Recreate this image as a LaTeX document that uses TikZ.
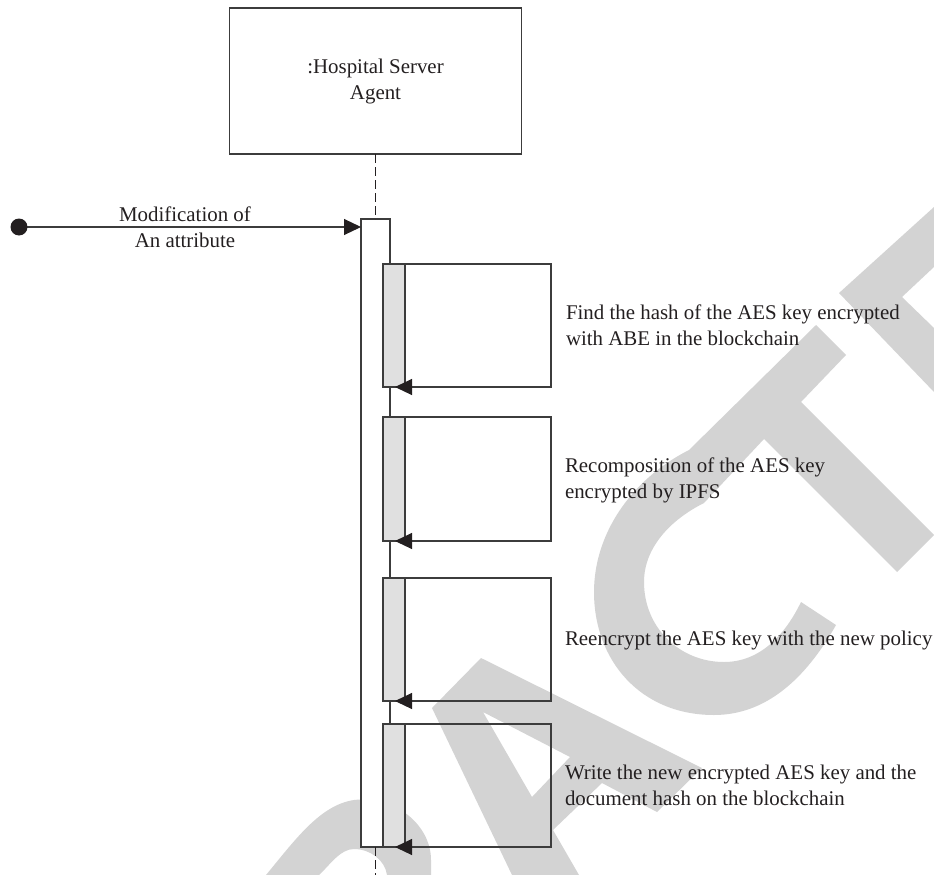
\documentclass[tikz,border=0pt]{standalone}
\usepackage{fontspec}
\setmainfont{Liberation Serif}
\usetikzlibrary{arrows.meta}
\definecolor{ink}{HTML}{231F20}
\definecolor{edge}{HTML}{3C3C3C}
\definecolor{mark}{HTML}{D3D3D3}
\definecolor{activ}{HTML}{E0E0E0}
\tikzset{
  x=1pt,y=-1pt,
  every node/.style={inner sep=0pt,outer sep=0pt,text=ink,font=\fontsize{20.9}{26}\selectfont},
  stamp/.style={fill=mark,draw=none,even odd rule},
  agentbox/.style={draw=edge,line width=1.1pt,minimum width=292pt,minimum height=146pt,align=center},
  lifebar/.style={draw=edge,line width=1.1pt,fill=white,minimum width=29pt,minimum height=628pt},
  activation/.style={draw=edge,line width=1.1pt,fill=activ,minimum width=22pt},
  loopline/.style={draw=edge,line width=1.1pt,-{Triangle[length=17pt,width=16pt,color=ink]}},
  lifeline/.style={draw=ink,line width=1pt,dash pattern=on 9pt off 4pt},
  note/.style={anchor=west,align=left},
  msg/.style={align=center}
}
\begin{document}
\begin{tikzpicture}
\useasboundingbox (0,0) rectangle (934,875);
% background stamp letters
\fill[stamp] (934,207) -- (839,293) -- (934,392) -- (934,328) -- (902,297) -- (934,267) -- cycle;
\fill[stamp] (816,325) -- (846,355) -- (801,402) -- (934,535) -- (897,572) -- (764,439) -- (704,503)
  .. controls (670,520) and (644,548) .. (644,582)
  .. controls (644,628) and (680,662) .. (724,662)
  .. controls (760,662) and (785,635) .. (801,602)
  -- (836,625)
  .. controls (805,680) and (765,715) .. (714,715)
  .. controls (640,715) and (594,660) .. (594,592)
  .. controls (594,535) and (630,480) .. (689,450) -- cycle;
\fill[stamp] (481,658) -- (702,768) -- (657,812) -- (602,783) -- (553,830) -- (579,875) -- (512,875) -- (432,708) -- cycle
  (483,712) -- (570,757) -- (532,797) -- cycle;
\fill[stamp] (266,875) .. controls (295,840) and (320,805) .. (354,800)
  .. controls (395,795) and (431,825) .. (431,860) -- (431,875) -- (387,875)
  .. controls (385,860) and (370,849) .. (354,849)
  .. controls (340,849) and (330,865) .. (319,875) -- cycle;
% agent and lifeline
\node[agentbox] (agent) at (375.5,81) {};
\node[msg] (agentlabel) at (375.5,82) {:Hospital Server\\Agent};
\node[lifebar] (bar) at (375.5,533) {};
\coordinate (lifeend) at (375.5,875);
\draw[lifeline] (agent.south) -- (bar.north);
\draw[lifeline] (bar.south) -- (lifeend);
% incoming message
\coordinate (start) at (19,227);
\coordinate (entry) at (361,227);
\draw[draw=edge,line width=1.1pt,-{Triangle[length=17pt,width=16pt,color=ink]}] (start) -- (entry);
\fill[ink] (start) circle (8.5pt);
\node[msg] (modlabel) at (185,227) {Modification of\\An attribute};
% activations and self calls
\node[activation,minimum height=123pt] (a1) at (394,325.5) {};
\node[activation,minimum height=124pt] (a2) at (394,479) {};
\node[activation,minimum height=123pt] (a3) at (394,639.5) {};
\node[activation,minimum height=123pt] (a4) at (394,785.5) {};
\coordinate (r1t) at (551,264); \coordinate (r1b) at (395,387);
\coordinate (r2t) at (551,417); \coordinate (r2b) at (395,541);
\coordinate (r3t) at (551,578); \coordinate (r3b) at (395,701);
\coordinate (r4t) at (551,724); \coordinate (r4b) at (395,847);
\draw[loopline] (a1.north east) -- (r1t) |- (r1b);
\draw[loopline] (a2.north east) -- (r2t) |- (r2b);
\draw[loopline] (a3.north east) -- (r3t) |- (r3b);
\draw[loopline] (a4.north east) -- (r4t) |- (r4b);
% labels
\node[note] (n1) at (566,325) {Find the hash of the AES key encrypted\\with ABE in the blockchain};
\node[note] (n2) at (565,480) {Recomposition of the AES key\\encrypted by IPFS};
\node[note] (n3) at (565,640) {Reencrypt the AES key with the new policy};
\node[note] (n4) at (565,785) {Write the new encrypted AES key and the\\document hash on the blockchain};
\end{tikzpicture}
\end{document}
